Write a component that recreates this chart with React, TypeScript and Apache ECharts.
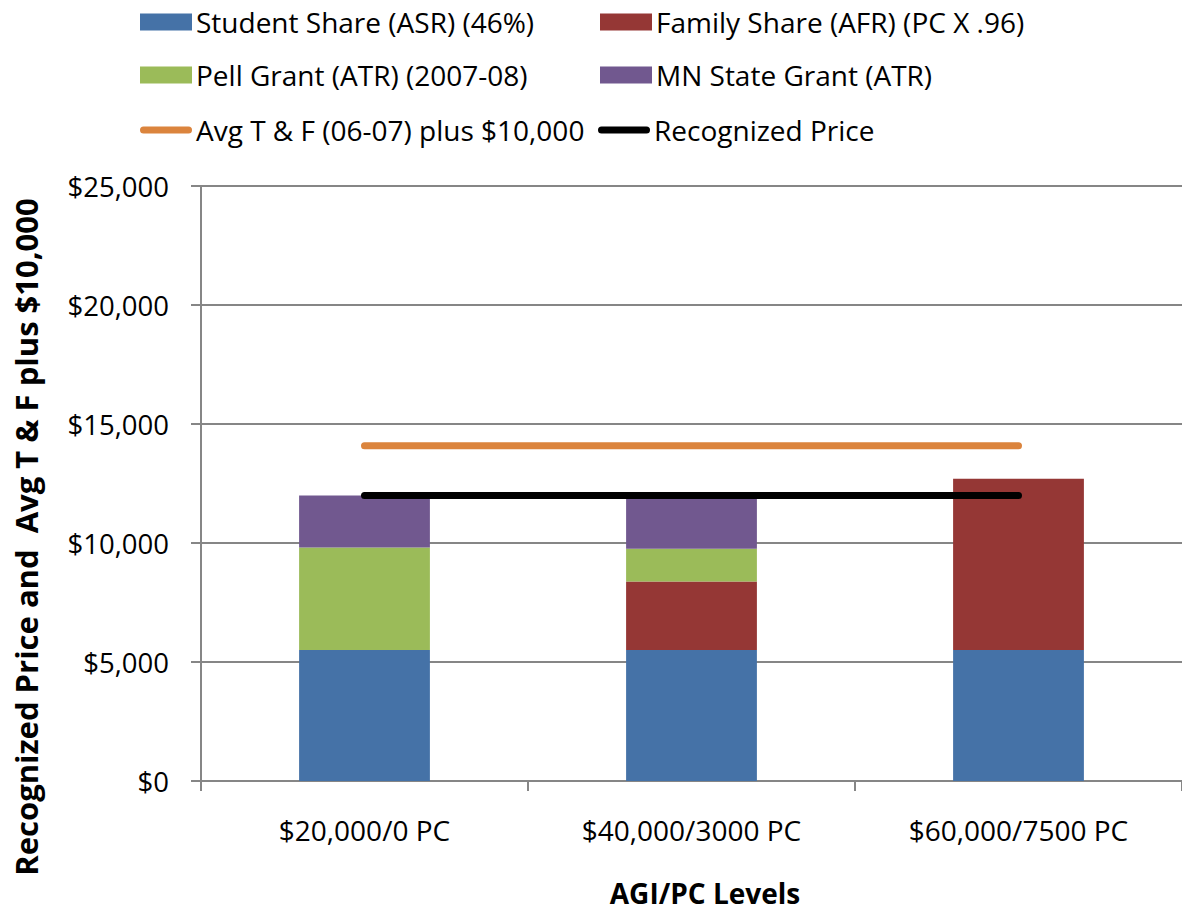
import React, { useEffect, useRef } from "react";
import * as echarts from "echarts";

const categories = ["$20,000/0 PC", "$40,000/3000 PC", "$60,000/7500 PC"];
const studentShare = [5500, 5500, 5500];
const familyShare = [null, 2880, 7200];
const pellGrant = [4310, 1380, null];
const mnStateGrant = [2190, 2240, null];
const avgTF = [14090, 14090, 14090];
const recognizedPrice = [12000, 12000, 12000];

const seriesNames = [
  "Student Share (ASR) (46%)",
  "Family Share (AFR) (PC X .96)",
  "Pell Grant (ATR) (2007-08)",
  "MN State Grant (ATR)",
  "Avg T & F (06-07) plus $10,000",
  "Recognized Price",
];
const yTickMax = 25000;
const yTickStep = 5000;

const FONT = "'Open Sans', 'Noto Sans', sans-serif";
const AXIS_GRAY = "#868686";
const CAPSULE = "path://M3.5,0 H48.5 A3.5,3.5 0 0 1 48.5,7 H3.5 A3.5,3.5 0 0 1 3.5,0 Z";

export default function App() {
  const ref = useRef<HTMLDivElement>(null);
  useEffect(() => {
    if (!ref.current) return;
    const chart = echarts.init(ref.current, undefined, { renderer: "svg" });
    const legendPos = [
      { left: 140, top: 7 },
      { left: 600, top: 7 },
      { left: 140, top: 60 },
      { left: 600, top: 60 },
      { left: 140, top: 115 },
      { left: 598, top: 115 },
    ];
    const legends = seriesNames.map((n, i) => ({
      data: [n],
      left: legendPos[i].left,
      top: legendPos[i].top,
      orient: "horizontal",
      padding: 0,
      itemWidth: 52,
      itemHeight: i >= 4 ? 7 : 17,
      icon: i >= 4 ? CAPSULE : "rect",
      selectedMode: false,
      textStyle: {
        fontFamily: FONT,
        fontSize: 28,
        color: "#000",
        lineHeight: 30,
        padding: [0, 0, 0, -1],
      },
    }));
    const barColors = ["#4572A7", "#953735", "#9BBB59", "#71588F"];
    const barData = [studentShare, familyShare, pellGrant, mnStateGrant];
    const series: any[] = barData.map((d, i) => ({
      name: seriesNames[i],
      type: "bar",
      stack: "total",
      barWidth: "40%",
      data: d,
      itemStyle: { color: barColors[i] },
    }));
    series.push({
      name: seriesNames[4],
      type: "line",
      data: avgTF,
      symbol: "none",
      lineStyle: { color: "#DB843D", width: 7, cap: "round" },
      itemStyle: { color: "#DB843D" },
      z: 5,
    });
    series.push({
      name: seriesNames[5],
      type: "line",
      data: recognizedPrice,
      symbol: "none",
      lineStyle: { color: "#000000", width: 7, cap: "round" },
      itemStyle: { color: "#000000" },
      z: 5,
    });
    chart.setOption({
      animation: false,
      backgroundColor: "#ffffff",
      legend: legends,
      grid: { left: 201, right: 0, top: 186, bottom: 132, containLabel: false },
      xAxis: {
        type: "category",
        data: categories,
        axisLine: { show: true, lineStyle: { color: AXIS_GRAY, width: 2 } },
        axisTick: { show: true, length: 10, interval: 0, lineStyle: { color: AXIS_GRAY, width: 2 } },
        axisLabel: { fontFamily: FONT, fontSize: 28, color: "#000", margin: 35, interval: 0 },
      },
      yAxis: {
        type: "value",
        min: 0,
        max: yTickMax,
        interval: yTickStep,
        axisLine: { show: true, lineStyle: { color: AXIS_GRAY, width: 2 } },
        axisTick: { show: true, length: 10, lineStyle: { color: AXIS_GRAY, width: 2 } },
        splitLine: { show: true, lineStyle: { color: AXIS_GRAY, width: 2 } },
        axisLabel: {
          fontFamily: FONT,
          fontSize: 27.5,
          color: "#000",
          margin: 32,
          formatter: (v: number) => "$" + v.toLocaleString("en-US"),
        },
      },
      graphic: [
        {
          type: "text",
          x: 26,
          y: 537,
          rotation: Math.PI / 2,
          style: {
            text: "Recognized Price and  Avg T & F plus $10,000",
            font: `bold 31px ${FONT}`,
            fill: "#000",
            align: "center",
            verticalAlign: "middle",
          },
        },
        {
          type: "text",
          x: 705,
          y: 893,
          style: {
            text: "AGI/PC Levels",
            font: `bold 28px ${FONT}`,
            fill: "#000",
            align: "center",
            verticalAlign: "middle",
          },
        },
      ],
      series,
    });
    return () => chart.dispose();
  }, []);
  return (
    <div
      ref={ref}
      style={{ position: "fixed", left: 0, top: 0, width: 1182, height: 913, background: "#fff" }}
    />
  );
}
